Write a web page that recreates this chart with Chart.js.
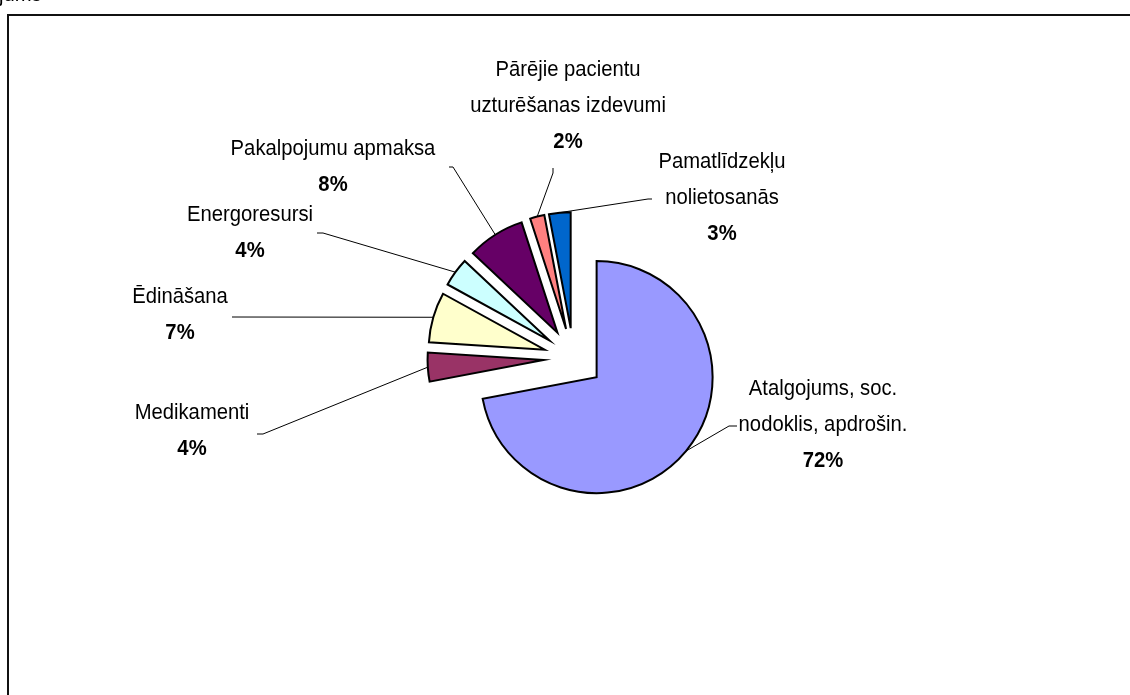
<!DOCTYPE html>
<html><head><meta charset="utf-8">
<script src="https://cdn.jsdelivr.net/npm/chart.js@4"></script>
<style>
html,body{margin:0;padding:0;background:#fff;overflow:hidden}
#wrap{position:relative;width:1130px;height:695px}
#frame{position:absolute;left:7px;top:14px;width:1200px;height:800px;border:2px solid #111;box-sizing:border-box}
#c{position:absolute;left:0;top:0;width:1130px;height:695px}
</style></head><body>
<div id="wrap"><div id="frame"></div><canvas id="c" width="1130" height="695"></canvas></div>
<script>
// ---- data ----
const categories = ['Atalgojums, soc. nodoklis, apdrošin.', 'Medikamenti', 'Ēdināšana', 'Energoresursi', 'Pakalpojumu apmaksa', 'Pārējie pacientu uzturēšanas izdevumi', 'Pamatlīdzekļu nolietosanās'];
const labelLines = [['Atalgojums, soc.', 'nodoklis, apdrošin.'], ['Medikamenti'], ['Ēdināšana'], ['Energoresursi'], ['Pakalpojumu apmaksa'], ['Pārējie pacientu', 'uzturēšanas izdevumi'], ['Pamatlīdzekļu', 'nolietosanās']];
const values = [72, 4, 7, 4, 8, 2, 3];
const colors = ['#9999FF', '#993366', '#FFFFCC', '#CCFFFF', '#660066', '#FF8080', '#0066CC'];

// ---- layout (label positions, leader elbows) ----
const labelLayout = [
  {cx: 823, y: 389, end: [737, 426], elbow: [729, 426]},
  {cx: 192, y: 413, end: [257, 434], elbow: [263, 434]},
  {cx: 180, y: 297, end: [232, 317], elbow: [232, 317]},
  {cx: 250, y: 215, end: [317, 233], elbow: [323, 233]},
  {cx: 333, y: 149, end: [449, 167], elbow: [453, 167]},
  {cx: 568, y: 70,  end: [553, 168], elbow: [553, 173]},
  {cx: 722, y: 162, end: [652, 199], elbow: [648, 199]}
];
const EXPLODE = 30;
const LINE_GAP = 36;
const FONT = '"Liberation Sans", Arial, sans-serif';
const FONT_SIZE = 22;
const SCALE_X = 0.92;

function drawText(ctx, txt, x, y, bold) {
  ctx.save();
  ctx.translate(x, y);
  ctx.scale(SCALE_X, 1);
  ctx.font = (bold ? 'bold ' : '') + FONT_SIZE + 'px ' + FONT;
  ctx.textAlign = 'center';
  ctx.textBaseline = 'middle';
  ctx.fillStyle = '#000';
  ctx.fillText(txt, 0, 0);
  ctx.restore();
}

const explodePlugin = {
  id: 'explode',
  afterDatasetUpdate(chart, args) {
    const meta = chart.getDatasetMeta(args.index);
    meta.data.forEach(el => {
      if (el._wrapped) return;
      const orig = el.draw;
      el.draw = function (ctx) {
        const mid = (this.startAngle + this.endAngle) / 2;
        ctx.save();
        ctx.translate(Math.cos(mid) * EXPLODE, Math.sin(mid) * EXPLODE);
        orig.call(this, ctx);
        ctx.restore();
      };
      el._wrapped = true;
    });
  }
};

const labelPlugin = {
  id: 'labels',
  afterDraw(chart) {
    const ctx = chart.ctx;
    const meta = chart.getDatasetMeta(0);
    const total = values.reduce((a, b) => a + b, 0);
    meta.data.forEach((el, i) => {
      const {x, y, startAngle, endAngle, outerRadius} = el.getProps(['x', 'y', 'startAngle', 'endAngle', 'outerRadius'], true);
      const mid = (startAngle + endAngle) / 2;
      const ax = x + Math.cos(mid) * (EXPLODE + outerRadius);
      const ay = y + Math.sin(mid) * (EXPLODE + outerRadius);
      const L = labelLayout[i];
      ctx.save();
      ctx.strokeStyle = '#000';
      ctx.lineWidth = 1;
      ctx.beginPath();
      ctx.moveTo(ax, ay);
      ctx.lineTo(L.elbow[0], L.elbow[1]);
      ctx.lineTo(L.end[0], L.end[1]);
      ctx.stroke();
      ctx.restore();
      const lines = labelLines[i];
      lines.forEach((t, k) => drawText(ctx, t, L.cx, L.y + k * LINE_GAP, false));
      const pct = Math.round(values[i] / total * 100) + '%';
      drawText(ctx, pct, L.cx, L.y + lines.length * LINE_GAP, true);
    });
    // clipped caption at very top
    ctx.save();
    ctx.translate(-1, 0.5);
    ctx.scale(SCALE_X, 1);
    ctx.font = FONT_SIZE + 'px ' + FONT;
    ctx.fillStyle = '#000';
    ctx.textBaseline = 'alphabetic';
    ctx.fillText('jums', 0, 0);
    ctx.restore();
  }
};

new Chart(document.getElementById('c'), {
  type: 'pie',
  data: {
    labels: categories,
    datasets: [{
      data: values,
      backgroundColor: colors,
      borderColor: '#000',
      borderWidth: 2,
      borderJoinStyle: 'miter',
      hoverOffset: 0,
      offset: 0
    }]
  },
  options: {
    responsive: false,
    animation: false,
    devicePixelRatio: 1,
    radius: 116,
    layout: {padding: {left: 17, top: 21, right: 0, bottom: 0}},
    plugins: {legend: {display: false}, tooltip: {enabled: false}},
    events: []
  },
  plugins: [explodePlugin, labelPlugin]
});
</script>
</body></html>
